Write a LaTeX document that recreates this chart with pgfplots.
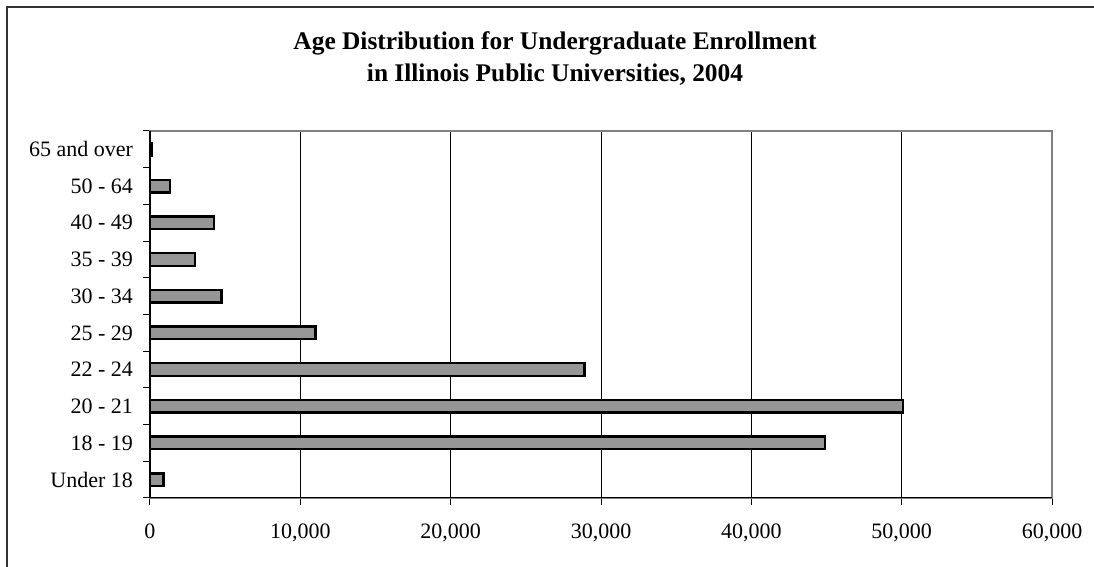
\documentclass[border=0pt]{standalone}
\usepackage{fontspec}
\setmainfont{Liberation Serif}
\usepackage{pgfplots}
\pgfplotsset{compat=1.18}
\begin{document}
\begin{tikzpicture}[x=1pt,y=1pt]
\useasboundingbox (0,0) rectangle (547,283.5);
\draw[black!80, line width=0.75pt] (3.5,-20) rectangle (600,280);
\node[align=center, font=\fontsize{12.7}{16}\selectfont\bfseries] at (277.5,254) {Age Distribution for Undergraduate Enrollment\\in Illinois Public Universities, 2004};
\begin{axis}[
 at={(75pt,34.5pt)}, anchor=south west,
 scale only axis, width=451pt, height=183.5pt,
 xbar, bar width=6.3pt,
 xmin=0, xmax=60000, ymin=-0.5, ymax=9.5,
 xtick={0,10000,20000,30000,40000,50000,60000},
 scaled x ticks=false,
 /pgf/number format/assume math mode=true,
 /pgf/number format/1000 sep={,},
 xmajorgrids, major grid style={black, line width=0.5pt},
 ytick={-0.5,0.5,1.5,2.5,3.5,4.5,5.5,6.5,7.5,8.5,9.5}, yticklabels={},
 extra y ticks={0,1,2,3,4,5,6,7,8,9},
 extra y tick labels={Under 18,18 - 19,20 - 21,22 - 24,25 - 29,30 - 34,35 - 39,40 - 49,50 - 64,65 and over},
 extra y tick style={major tick length=0pt, yticklabel style={xshift=-5pt}},
 tick align=outside, major tick length=3.5pt,
 xtick pos=left, ytick pos=left,
 axis line style={draw=gray, line width=1pt},
 tick style={black, line width=0.5pt},
 xticklabel style={yshift=-6pt},
 font=\fontsize{11}{12}\selectfont,
 clip=false,
]
\addplot[fill=black!41, draw=black, line width=1.2pt] coordinates {
 (900,0) (44900,1) (50100,2) (28900,3) (11000,4) (4750,5) (3000,6) (4250,7) (1330,8) (100,9)
};
\draw[black, line width=0.75pt] (rel axis cs:0,0) -- (rel axis cs:0,1);
\draw[black, line width=0.5pt] (rel axis cs:0,0) -- (rel axis cs:1,0);
\end{axis}
\end{tikzpicture}
\end{document}
